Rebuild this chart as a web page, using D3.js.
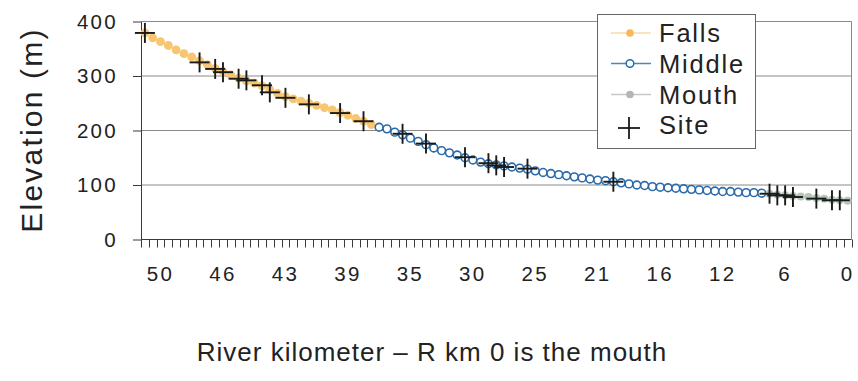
<!DOCTYPE html>
<html>
<head>
<meta charset="utf-8">
<script src="https://cdn.jsdelivr.net/npm/d3@7"></script>
<style>
    body { margin: 0; background: #fff; }
    text { font-family: "Liberation Sans", Arial, sans-serif; fill: #222; }
</style>
</head>
<body>
<script>
const width = 858;
const height = 381;

// category slots along the river: 90 = upstream end (left), 0 = the mouth (right)
const nCats = 91;
const tickCats = [88, 80, 72, 64, 56, 48, 40, 32, 24, 16, 8, 0];
const tickLabels = ["50", "46", "43", "39", "35", "30", "25", "21", "16", "12", "6", "0"];
const yTicks = [0, 100, 200, 300, 400];

// Falls: slots 90 .. 61
const fallsCats = d3.range(90, 60, -1);
const fallsElev = [379, 370, 363, 356, 348, 341, 335, 328, 321, 314,
    308, 302, 296, 291, 287, 282, 275, 268, 262, 258,
    254, 250, 246, 242, 238, 233, 228, 222, 217, 211];

// Middle: slots 60 .. 11
const middleCats = d3.range(60, 10, -1);
const middleElev = [206, 203, 197, 192, 186, 180, 174, 168, 163, 159,
    155, 150, 146, 142, 139, 137, 135, 133, 131, 129,
    126, 123, 121, 119, 117, 115, 113, 111, 109, 108,
    106, 104, 102, 100, 99, 97, 96, 95, 94, 93,
    92, 91, 90, 89, 88, 88, 87, 86, 86, 85];

// Mouth: slots 10 .. 0
const mouthCats = d3.range(10, -1, -1);
const mouthElev = [84, 82, 81, 80, 79, 78, 76, 75, 73, 72, 71];

// sampling sites
const siteCats = [90, 83, 81, 80, 78, 77, 75, 74, 72, 69, 65, 62, 57, 54, 49, 46, 45, 44, 41, 30, 10, 9, 8, 7, 4, 2, 1];
const siteElev = [379, 325, 313, 307, 295, 292, 283, 270, 260, 248, 232, 217, 194, 176, 151, 140, 136, 133, 130, 106, 84, 81, 81, 78, 75, 72, 72];

const plotLeft = 141, plotRight = 851.5, plotTop = 21.5, plotBottom = 239.5;

let svg = d3.select("body").append("svg")
    .attr("width", width)
    .attr("height", height);

// reversed category axis
let x = d3.scaleBand().domain(d3.range(nCats)).range([plotRight, plotLeft]);
let cx = i => x(i) + x.bandwidth() / 2;
let y = d3.scaleLinear().domain([0, 400]).range([plotBottom, plotTop]);

// gridlines + right border
svg.append("g").selectAll("line")
    .data(yTicks.filter(v => v > 0))
    .enter().append("line")
    .attr("x1", plotLeft).attr("x2", plotRight)
    .attr("y1", d => y(d)).attr("y2", d => y(d))
    .attr("stroke", "#8a8a8a").attr("stroke-width", 1);
svg.append("line")
    .attr("x1", plotRight).attr("x2", plotRight).attr("y1", plotTop).attr("y2", plotBottom)
    .attr("stroke", "#8a8a8a");

// y axis
let yAxis = svg.append("g")
    .attr("transform", `translate(${plotLeft},0)`)
    .call(d3.axisLeft(y).tickValues(yTicks).tickSize(8).tickSizeOuter(0).tickPadding(15));
yAxis.select(".domain").attr("stroke", "#3a3a3a");
yAxis.selectAll(".tick line").attr("stroke", "#3a3a3a");
yAxis.selectAll("text")
    .attr("font-size", 20.5).attr("letter-spacing", 2.3)
    .style("font-family", '"Liberation Sans", Arial, sans-serif').attr("fill", "#222");

// x axis line and category ticks
svg.append("line")
    .attr("x1", plotLeft).attr("x2", plotRight).attr("y1", plotBottom).attr("y2", plotBottom)
    .attr("stroke", "#3a3a3a");
let bounds = d3.range(nCats).map(i => x(i)).concat([plotRight]);
svg.append("g").selectAll("line")
    .data(bounds)
    .enter().append("line")
    .attr("x1", d => Math.round(d) + 0.5).attr("x2", d => Math.round(d) + 0.5)
    .attr("y1", plotBottom).attr("y2", plotBottom + 8)
    .attr("stroke", "#3a3a3a");

svg.append("g").selectAll("text")
    .data(tickCats)
    .enter().append("text")
    .attr("x", d => cx(d))
    .attr("y", 281)
    .attr("text-anchor", "middle")
    .attr("font-size", 20.5).attr("letter-spacing", 2.3)
    .text((d, i) => tickLabels[i]);

// axis titles
svg.append("text")
    .attr("transform", "translate(42,130) rotate(-90)")
    .attr("text-anchor", "middle")
    .attr("font-size", 30).attr("letter-spacing", 2.2)
    .text("Elevation (m)");
svg.append("text")
    .attr("x", 432).attr("y", 361)
    .attr("text-anchor", "middle")
    .attr("font-size", 26).attr("letter-spacing", 1)
    .text("River kilometer \u2013 R km 0 is the mouth");

// series
let line = d3.line().x(d => cx(d[0])).y(d => y(d[1]));

function drawSeries(cats, vals, lineColor, markerFill, markerStroke, r, sw) {
    let pts = cats.map((c, i) => [c, vals[i]]);
    svg.append("path")
        .datum(pts)
        .attr("d", line)
        .attr("fill", "none")
        .attr("stroke", lineColor)
        .attr("stroke-width", 1.5);
    svg.append("g").selectAll("circle")
        .data(pts)
        .enter().append("circle")
        .attr("cx", d => cx(d[0]))
        .attr("cy", d => y(d[1]))
        .attr("r", r)
        .attr("fill", markerFill)
        .attr("stroke", markerStroke)
        .attr("stroke-width", sw);
}

drawSeries(fallsCats, fallsElev, "#f6dca8", "#f8c670", "none", 4.4, 0);
drawSeries(middleCats, middleElev, "#3c8fb5", "#fff", "#2a6aaa", 3.9, 1.6);
drawSeries(mouthCats, mouthElev, "#c9d2cb", "#b3c6b9", "none", 4, 0);

// site crosses
let sites = svg.append("g").attr("stroke", "#1a1a1a").attr("stroke-width", 1.9);
siteCats.forEach((c, i) => {
    let px = cx(c), py = y(siteElev[i]);
    sites.append("line").attr("x1", px - 10).attr("x2", px + 10).attr("y1", py).attr("y2", py);
    sites.append("line").attr("x1", px).attr("x2", px).attr("y1", py - 10).attr("y2", py + 10);
});

// legend
let legend = svg.append("g");
legend.append("rect")
    .attr("x", 597.5).attr("y", 14.5).attr("width", 158).attr("height", 134)
    .attr("fill", "#fff").attr("stroke", "#666");

let legendItems = ["Falls", "Middle", "Mouth", "Site"];
let legendY = [33, 63.5, 94.5, 125];
legendItems.forEach((name, i) => {
    let ly = legendY[i];
    let g = legend.append("g");
    if (name === "Site") {
        g.append("line").attr("x1", 618).attr("x2", 640).attr("y1", ly + 3).attr("y2", ly + 3)
            .attr("stroke", "#1a1a1a").attr("stroke-width", 1.8);
        g.append("line").attr("x1", 629).attr("x2", 629).attr("y1", ly - 8).attr("y2", ly + 14)
            .attr("stroke", "#1a1a1a").attr("stroke-width", 1.8);
    } else {
        let lc = ["#f6dca8", "#3c8fb5", "#c8c8c8"][i];
        let mf = ["#f7b958", "#fff", "#b5b5b5"][i];
        let ms = ["none", "#2a6aaa", "none"][i];
        g.append("line").attr("x1", 611).attr("x2", 651).attr("y1", ly).attr("y2", ly)
            .attr("stroke", lc).attr("stroke-width", 1.5);
        g.append("circle").attr("cx", 630).attr("cy", ly).attr("r", 3.8)
            .attr("fill", mf).attr("stroke", ms).attr("stroke-width", 1.5);
    }
    g.append("text")
        .attr("x", 659).attr("y", ly).attr("dy", "0.36em")
        .attr("font-size", 25.5).attr("letter-spacing", 1.8)
        .text(name);
});
</script>
</body>
</html>
